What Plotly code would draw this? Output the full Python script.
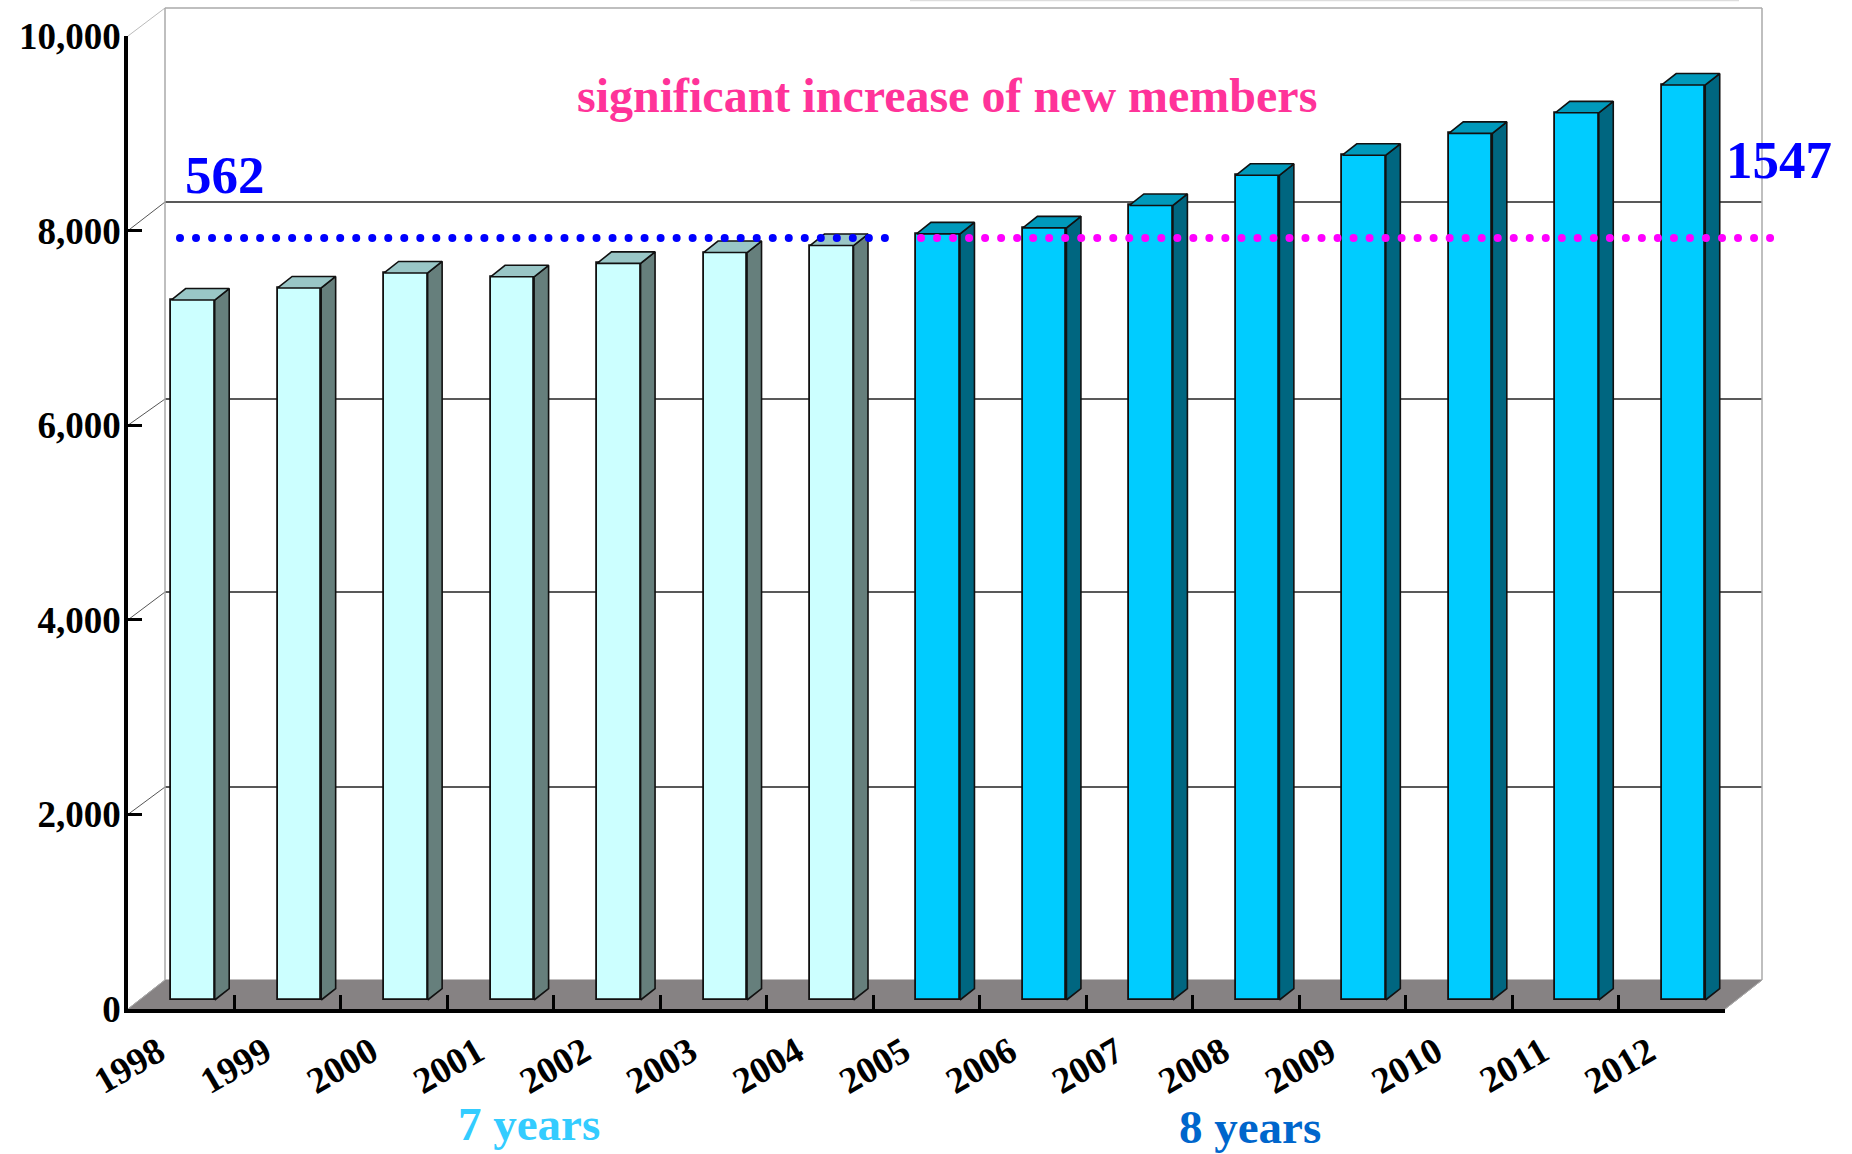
import numpy as np
import plotly.graph_objects as go

# ---- data ----
years = ["1998","1999","2000","2001","2002","2003","2004","2005","2006","2007","2008","2009","2010","2011","2012"]
members = [7194,7318,7472,7433,7571,7682,7754,7874,7936,8166,8476,8682,8907,9118,9404]
y_ticks = [0,2000,4000,6000,8000,10000]
split_index = 7           # first year of the "8 years" group
level_value = 7924        # dotted reference level on the value axis

# ---- geometry / style ----
W, H = 1852, 1154
L, R, T, B = 128, 1725, 36, 1009      # front axes box
PAPER_R = 1790                        # right edge of the plotting paper
PW, PH = R - L, B - T
PPW = PAPER_R - L
SLOT = PW / 15
WALL_LEFT, WALL_RIGHT, WALL_BOTTOM = 165, 1762, 980
WALL_ROWS = {10000: 8, 8000: 202, 6000: 399, 4000: 592, 2000: 787}   # back-wall grid rows
BAR_OFF, BAR_W = 0.11, 0.409             # category units
BAR_BASE = 92.5                          # value units
DEPTH_X, DEPTH_Y = 0.136, 118.0
LIGHT = dict(front="#ccffff", side="#667f7c", top="#99c6c6")
DARK = dict(front="#00ccff", side="#006680", top="#0099bb")
SERIF = "Liberation Serif"
DOT_STEP = 16.02 / SLOT


def pxx(px):
    return (px - L) / PPW


def pxy(py):
    return (B - py) / PH


def dx(px):
    return (px - L) / SLOT - 0.5


def poly(pts):
    return "M " + " L ".join(f"{pxx(a):.5f},{pxy(b):.5f}" for a, b in pts) + " Z"


def pline(x0, y0, x1, y1, color, width):
    return dict(type="line", xref="paper", yref="paper", layer="below",
                x0=pxx(x0), x1=pxx(x1), y0=pxy(y0), y1=pxy(y1),
                line=dict(color=color, width=width))


def tick_row(v):
    return B - v / 10000 * PH


shapes = []
# floor
shapes.append(dict(type="path", xref="paper", yref="paper", layer="below",
                   path=poly([(L, B), (WALL_LEFT, WALL_BOTTOM), (WALL_RIGHT, WALL_BOTTOM), (R, B)]),
                   fillcolor="#868283", line=dict(color="#868283", width=1)))
# back-wall grid + left-wall diagonals
for v, row in WALL_ROWS.items():
    grey = v == 10000
    shapes.append(pline(WALL_LEFT, row, WALL_RIGHT, row, "#aaaaaa" if grey else "#222222", 1.5))
    shapes.append(pline(L, tick_row(v), WALL_LEFT, row, "#bbbbbb" if grey else "#555555", 1))
# wall verticals and floor edges
for xv in (WALL_LEFT, WALL_RIGHT):
    shapes.append(pline(xv, WALL_ROWS[10000], xv, WALL_BOTTOM, "#aaaaaa", 1.5))
shapes.append(pline(R, B, WALL_RIGHT, WALL_BOTTOM, "#aaaaaa", 1))
shapes.append(pline(L, B, WALL_LEFT, WALL_BOTTOM, "#aaaaaa", 1))
# faint line at the page top
shapes.append(pline(910, 0.5, 1739, 0.5, "#dddddd", 1.5))

fig = go.Figure()

groups = [(years[:split_index], members[:split_index], 0, LIGHT),
          (years[split_index:], members[split_index:], split_index, DARK)]

for cats, vals, start, pal in groups:
    fig.add_trace(go.Bar(x=cats, y=vals, base=BAR_BASE, width=BAR_W, offset=BAR_OFF - BAR_W / 2,
                         marker=dict(color=pal["front"], line=dict(color="#111111", width=1.8)),
                         hoverinfo="skip"))

for cats, vals, start, pal in groups:
    sx, sy, tx, ty = [], [], [], []
    for i, v in enumerate(vals):
        k = start + i
        lft = k + BAR_OFF - BAR_W / 2
        rgt = k + BAR_OFF + BAR_W / 2
        top = v + BAR_BASE
        sx += [rgt, rgt + DEPTH_X, rgt + DEPTH_X, rgt, rgt, None]
        sy += [BAR_BASE, BAR_BASE + DEPTH_Y, top + DEPTH_Y, top, BAR_BASE, None]
        tx += [lft, lft + DEPTH_X, rgt + DEPTH_X, rgt, lft, None]
        ty += [top, top + DEPTH_Y, top + DEPTH_Y, top, top, None]
    fig.add_trace(go.Scatter(x=sx, y=sy, xaxis="x2", yaxis="y", mode="lines", fill="toself",
                             fillcolor=pal["side"], line=dict(color="#111111", width=1.6),
                             hoverinfo="skip"))
    fig.add_trace(go.Scatter(x=tx, y=ty, xaxis="x2", yaxis="y", mode="lines", fill="toself",
                             fillcolor=pal["top"], line=dict(color="#111111", width=1.6),
                             hoverinfo="skip"))

# dotted reference level: spans given in pixels, dots placed at a fixed pitch
for start_px, end_px, color in [(180, 885, "#0000ff"), (921, 1770, "#ff00ff")]:
    xs = np.arange(dx(start_px), dx(end_px) + DOT_STEP / 2, DOT_STEP)
    fig.add_trace(go.Scatter(x=xs, y=[level_value] * len(xs), xaxis="x3", yaxis="y", mode="markers",
                             marker=dict(color=color, size=8, line=dict(width=0)),
                             hoverinfo="skip"))


def note(text, cx, cy, size, color):
    return dict(text=f"<b>{text}</b>", xref="paper", yref="paper", x=pxx(cx), y=pxy(cy),
                xanchor="center", yanchor="middle", showarrow=False,
                font=dict(family=SERIF, size=size, color=color))


annotations = [
    note("significant increase of new members", 947, 96, 48, "#ff3399"),
    note("562", 225, 175, 53, "#0000ff"),
    note("1547", 1779, 160, 53, "#0000ff"),
    note("7 years", 529, 1124, 47, "#33ccff"),
    note("8 years", 1250, 1127, 47, "#0066cc"),
]

front_domain = [0, PW / PPW]
fig.update_layout(
    width=W, height=H, autosize=False,
    margin=dict(l=L, r=W - PAPER_R, t=T, b=H - B, pad=0),
    paper_bgcolor="white", plot_bgcolor="rgba(0,0,0,0)",
    showlegend=False, bargap=0, barmode="overlay",
    shapes=shapes, annotations=annotations,
    xaxis=dict(type="category", categoryorder="array", categoryarray=years, domain=front_domain,
               range=[-0.5, 14.5], tickson="boundaries", ticks="inside", ticklen=14,
               tickwidth=2.5, tickcolor="black", showline=True, linecolor="black", linewidth=3.5,
               showgrid=False, zeroline=False, tickangle=-30, ticklabelstandoff=3,
               ticklabelshift=-23,
               tickfont=dict(family=SERIF, size=37, color="black", weight="bold")),
    xaxis2=dict(overlaying="x", anchor="y", range=[-0.5, 14.5], visible=False, showgrid=False,
                zeroline=False),
    xaxis3=dict(anchor="y", domain=[0, 1], range=[-0.5, -0.5 + PPW / SLOT], visible=False,
                showgrid=False, zeroline=False),
    yaxis=dict(range=[0, 10000], tickvals=y_ticks, tickformat=",", ticks="inside", ticklen=14,
               tickwidth=2.5, tickcolor="black", showline=True, linecolor="black", linewidth=3.5,
               showgrid=False, zeroline=False, ticklabelstandoff=-4,
               tickfont=dict(family=SERIF, size=37, color="black", weight="bold")),
)

fig.write_html("out.html", config=dict(displayModeBar=False),
               post_script="document.body.style.margin='0';document.body.style.overflow='hidden';")
